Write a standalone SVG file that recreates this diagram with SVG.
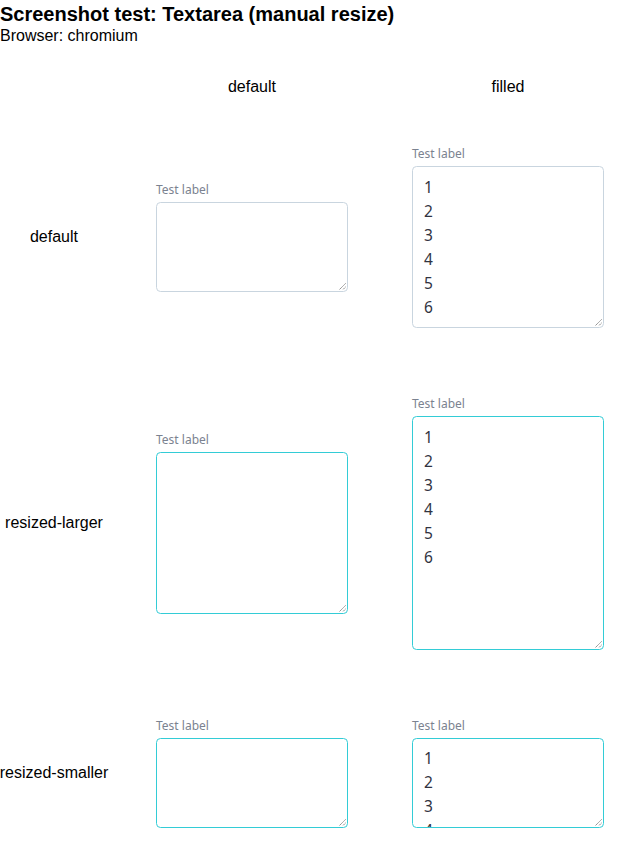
<svg xmlns="http://www.w3.org/2000/svg" width="621" height="846" viewBox="0 0 621 846">
<style>
.h{font-family:"Liberation Sans",Arial,sans-serif;fill:#000}
.t{font-size:16px}
.lbl{font-family:"Noto Sans","Open Sans",sans-serif;font-size:12px;fill:#7b8290}
.num{font-family:"Noto Sans","Open Sans",sans-serif;font-size:15.5px;fill:#31333f}
.box{fill:#fff;stroke-width:1}
.plain{stroke:#c9d5df}
.focus{stroke:#33ccd6}
.grip{stroke:#555;stroke-width:0.9;stroke-dasharray:1 0.6}
</style>
<defs>
<clipPath id="c6"><rect x="413" y="739" width="190" height="88"/></clipPath>
</defs>
<rect width="621" height="846" fill="#fff"/>
<text class="h" x="0" y="21" font-size="20" font-weight="bold">Screenshot test: Textarea (manual resize)</text>
<text class="h t" x="0" y="41">Browser: chromium</text>
<text class="h t" x="252" y="92" text-anchor="middle">default</text>
<text class="h t" x="508" y="92" text-anchor="middle">filled</text>
<text class="h t" x="54" y="242" text-anchor="middle">default</text>
<text class="h t" x="54" y="528" text-anchor="middle">resized-larger</text>
<text class="h t" x="54" y="778" text-anchor="middle">resized-smaller</text>

<g id="ta-default-default">
<text class="lbl" x="156" y="194">Test label</text>
<rect class="box plain" x="156.5" y="202.5" width="191" height="89" rx="4"/>
<path class="grip" d="M345.5 283.5 L339.5 289.5 M345.5 287 L343 289.5"/>
</g>
<g id="ta-default-filled">
<text class="lbl" x="412" y="158">Test label</text>
<rect class="box plain" x="412.5" y="166.5" width="191" height="161" rx="4"/>
<g class="num"><text x="424" y="193">1</text><text x="424" y="217">2</text><text x="424" y="241">3</text><text x="424" y="265">4</text><text x="424" y="289">5</text><text x="424" y="313">6</text></g>
<path class="grip" d="M601.5 319.5 L595.5 325.5 M601.5 323 L599 325.5"/>
</g>
<g id="ta-larger-default">
<text class="lbl" x="156" y="444">Test label</text>
<rect class="box focus" x="156.5" y="452.5" width="191" height="161" rx="4"/>
<path class="grip" d="M345.5 605.5 L339.5 611.5 M345.5 609 L343 611.5"/>
</g>
<g id="ta-larger-filled">
<text class="lbl" x="412" y="408">Test label</text>
<rect class="box focus" x="412.5" y="416.5" width="191" height="233" rx="4"/>
<g class="num"><text x="424" y="443">1</text><text x="424" y="467">2</text><text x="424" y="491">3</text><text x="424" y="515">4</text><text x="424" y="539">5</text><text x="424" y="563">6</text></g>
<path class="grip" d="M601.5 641.5 L595.5 647.5 M601.5 645 L599 647.5"/>
</g>
<g id="ta-smaller-default">
<text class="lbl" x="156" y="730">Test label</text>
<rect class="box focus" x="156.5" y="738.5" width="191" height="89" rx="4"/>
<path class="grip" d="M345.5 819.5 L339.5 825.5 M345.5 823 L343 825.5"/>
</g>
<g id="ta-smaller-filled">
<text class="lbl" x="412" y="730">Test label</text>
<rect class="box focus" x="412.5" y="738.5" width="191" height="89" rx="4"/>
<g class="num" clip-path="url(#c6)"><text x="424" y="764">1</text><text x="424" y="788">2</text><text x="424" y="812">3</text><text x="424" y="836">4</text></g>
<path class="grip" d="M601.5 819.5 L595.5 825.5 M601.5 823 L599 825.5"/>
</g>
</svg>
